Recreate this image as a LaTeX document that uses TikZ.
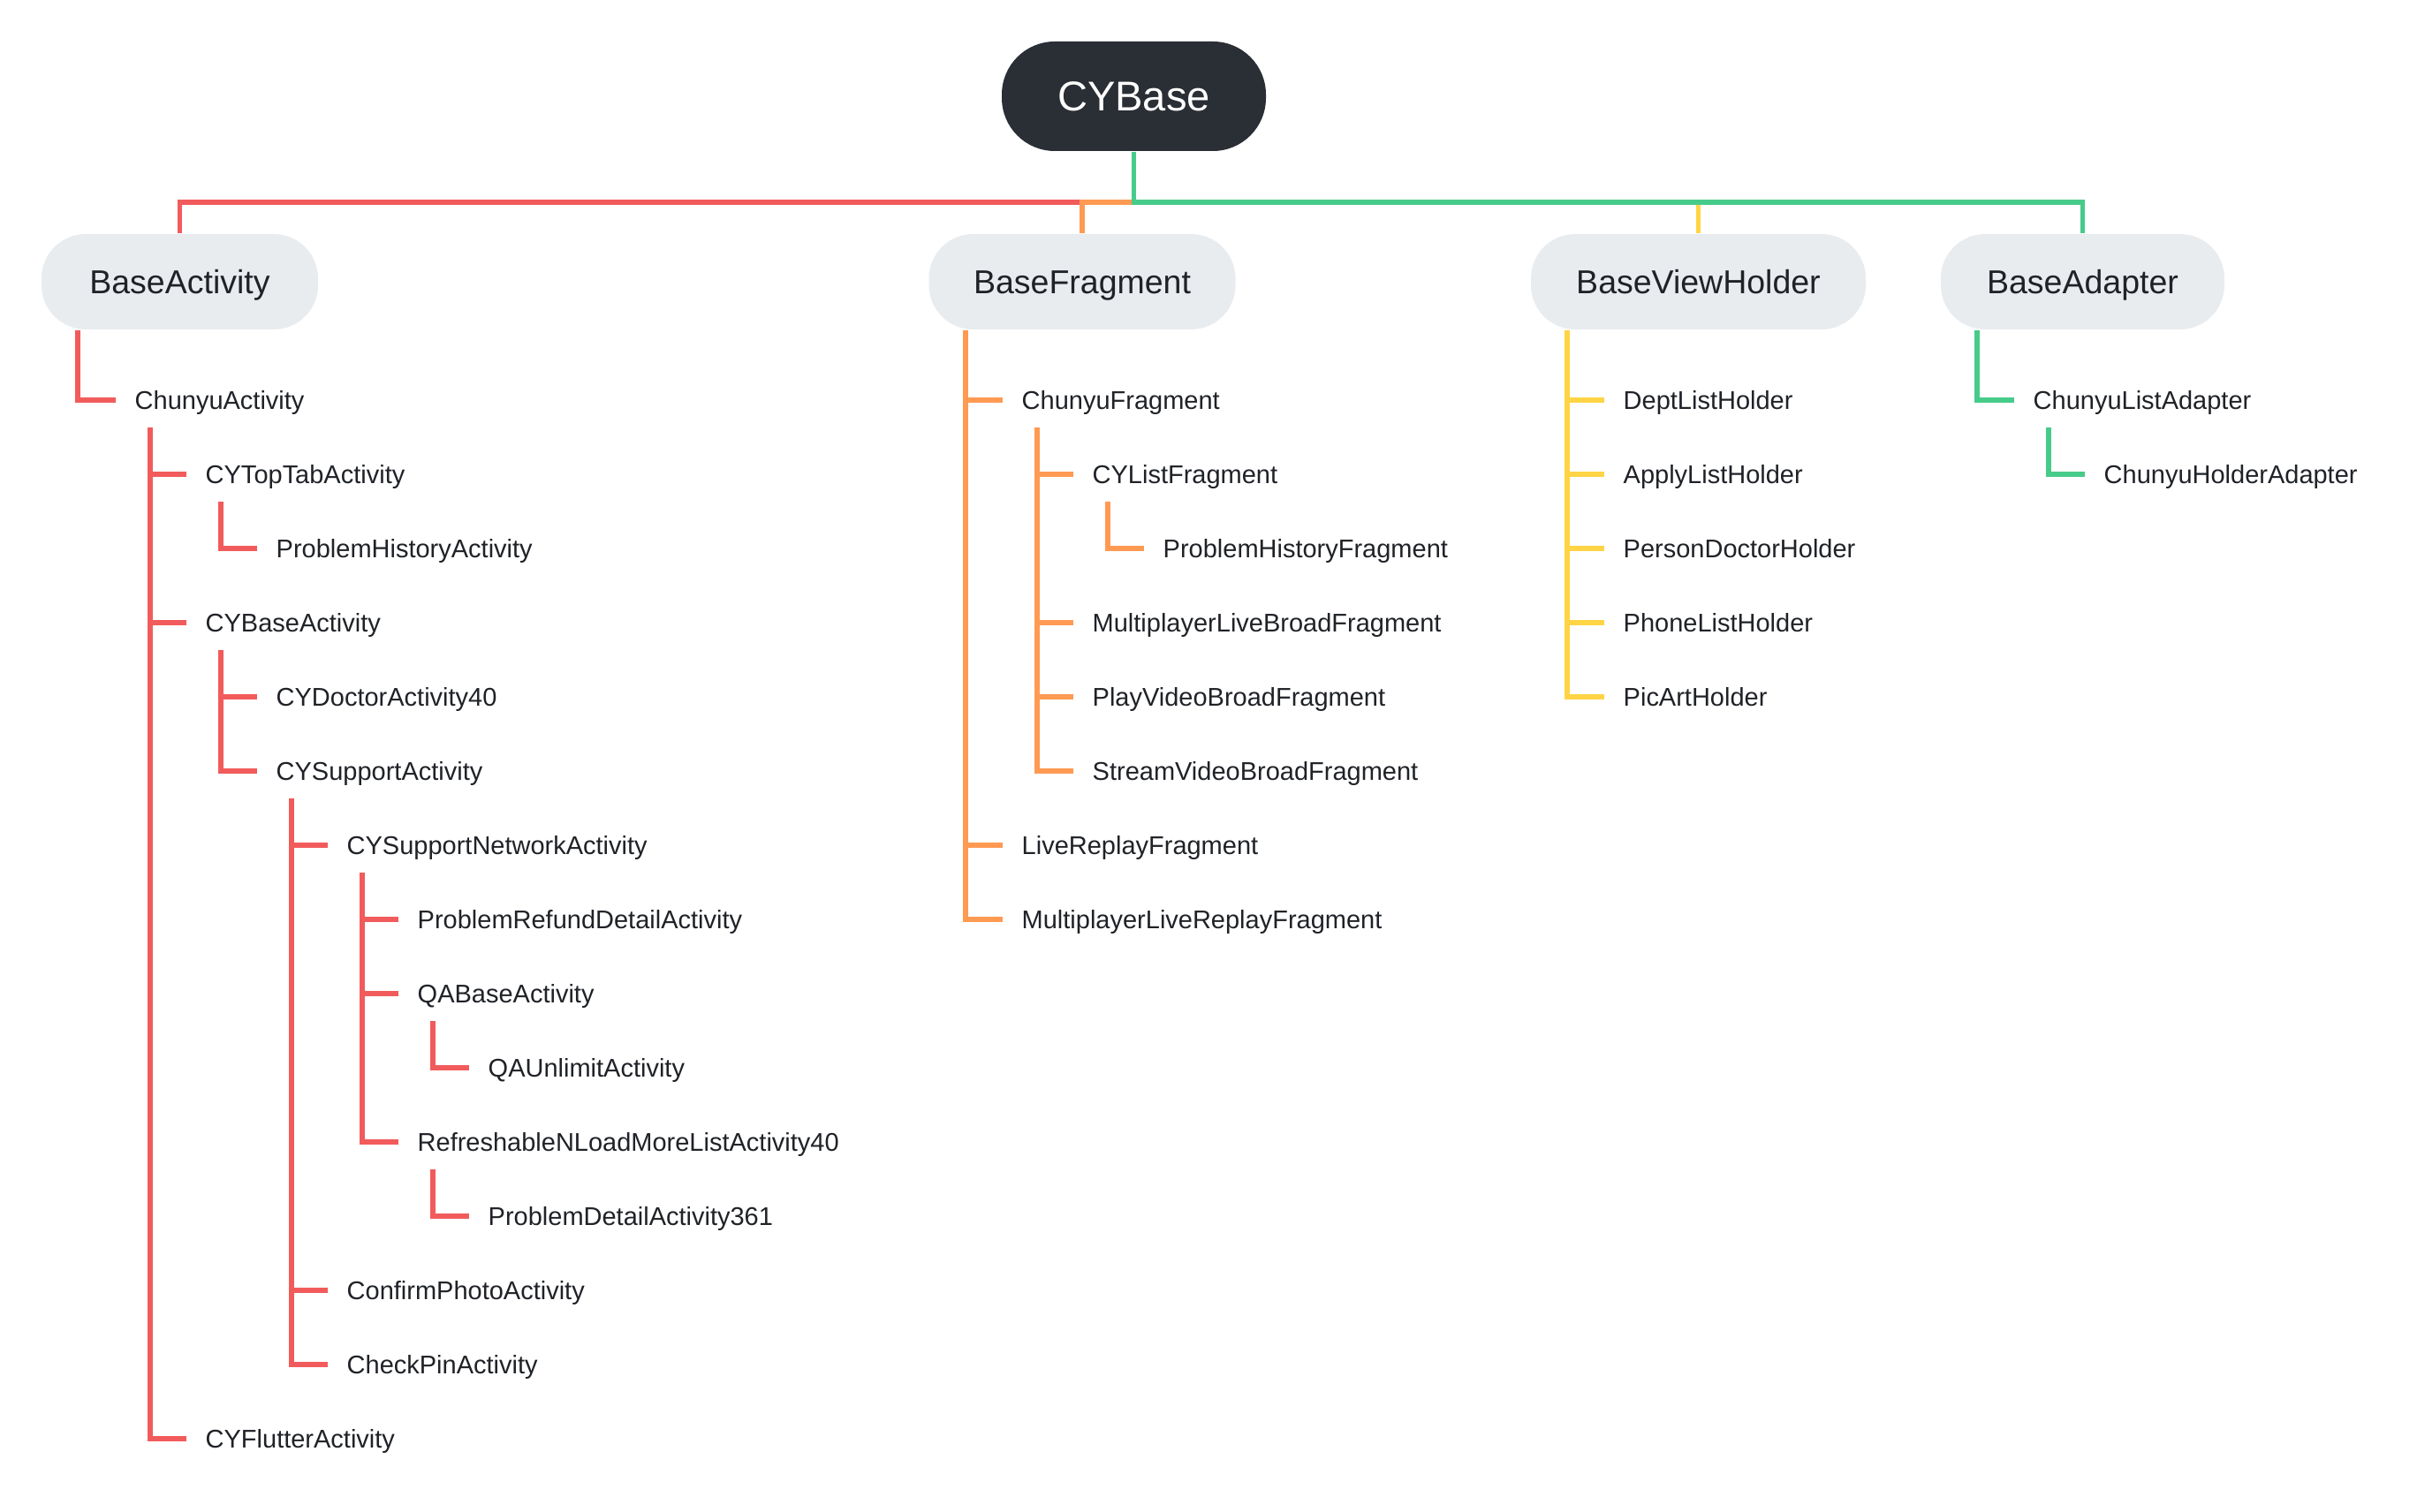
\documentclass[tikz,border=0pt]{standalone}
\usepackage{fontspec}
\setmainfont{Liberation Sans}
\usepackage{xcolor}
\usepackage{tikz}

\definecolor{cyred}{HTML}{F25B5B}
\definecolor{cyorange}{HTML}{FF9A52}
\definecolor{cyyellow}{HTML}{FFD445}
\definecolor{cygreen}{HTML}{47CB8A}
\definecolor{cydark}{HTML}{2A2E35}
\definecolor{cygray}{HTML}{E9ECEF}
\definecolor{cytext}{HTML}{1F2227}

\begin{document}
\begin{tikzpicture}[
    rootbox/.style={fill=cydark,text=white,rounded corners=0.6cm,minimum width=2.99cm,minimum height=1.24cm,inner sep=0pt,font=\fontsize{13.4}{16}\selectfont,text height=0.44cm,text depth=0.104cm},
    basebox/.style={fill=cygray,text=cytext,rounded corners=0.5cm,minimum height=1.08cm,inner sep=0pt,font=\fontsize{10.67}{13}\selectfont,text height=0.35cm,text depth=0.082cm},
    leaf/.style={anchor=west,inner xsep=0.21cm,inner ysep=0pt,text=cytext,font=\fontsize{8.25}{10}\selectfont,text height=0.28cm,text depth=0.072cm},
    link/.style={line width=0.058cm}
  ]
        \useasboundingbox (0,0) rectangle (27.36,-17.12);

        % Root and base classes
        \node[rootbox] (cybase) at (12.835,-1.09) {CYBase};
        \node[basebox,minimum width=3.13cm] (bact) at (2.035,-3.19) {BaseActivity};
        \node[basebox,minimum width=3.47cm] (bfrag) at (12.25,-3.19) {BaseFragment};
        \node[basebox,minimum width=3.79cm] (bvh) at (19.225,-3.19) {BaseViewHolder};
        \node[basebox,minimum width=3.21cm] (badp) at (23.575,-3.19) {BaseAdapter};

        % Activities
        \node[leaf] (chact) at (1.31,-4.53) {ChunyuActivity};
        \node[leaf] (toptab) at (2.11,-5.37) {CYTopTabActivity};
        \node[leaf] (phact) at (2.91,-6.21) {ProblemHistoryActivity};
        \node[leaf] (cybact) at (2.11,-7.05) {CYBaseActivity};
        \node[leaf] (doct) at (2.91,-7.89) {CYDoctorActivity40};
        \node[leaf] (supp) at (2.91,-8.73) {CYSupportActivity};
        \node[leaf] (suppnet) at (3.71,-9.57) {CYSupportNetworkActivity};
        \node[leaf] (refund) at (4.51,-10.41) {ProblemRefundDetailActivity};
        \node[leaf] (qabase) at (4.51,-11.25) {QABaseActivity};
        \node[leaf] (qaunl) at (5.31,-12.09) {QAUnlimitActivity};
        \node[leaf] (refresh) at (4.51,-12.93) {RefreshableNLoadMoreListActivity40};
        \node[leaf] (pdetail) at (5.31,-13.77) {ProblemDetailActivity361};
        \node[leaf] (confirm) at (3.71,-14.61) {ConfirmPhotoActivity};
        \node[leaf] (checkpin) at (3.71,-15.45) {CheckPinActivity};
        \node[leaf] (flutter) at (2.11,-16.29) {CYFlutterActivity};

        % Fragments
        \node[leaf] (chfrag) at (11.35,-4.53) {ChunyuFragment};
        \node[leaf] (listfrag) at (12.15,-5.37) {CYListFragment};
        \node[leaf] (phfrag) at (12.95,-6.21) {ProblemHistoryFragment};
        \node[leaf] (mlbfrag) at (12.15,-7.05) {MultiplayerLiveBroadFragment};
        \node[leaf] (pvbfrag) at (12.15,-7.89) {PlayVideoBroadFragment};
        \node[leaf] (svbfrag) at (12.15,-8.73) {StreamVideoBroadFragment};
        \node[leaf] (lrfrag) at (11.35,-9.57) {LiveReplayFragment};
        \node[leaf] (mlrfrag) at (11.35,-10.41) {MultiplayerLiveReplayFragment};

        % View holders
        \node[leaf] (dept) at (18.16,-4.53) {DeptListHolder};
        \node[leaf] (apply) at (18.16,-5.37) {ApplyListHolder};
        \node[leaf] (person) at (18.16,-6.21) {PersonDoctorHolder};
        \node[leaf] (phone) at (18.16,-7.05) {PhoneListHolder};
        \node[leaf] (picart) at (18.16,-7.89) {PicArtHolder};

        % Adapters
        \node[leaf] (chlist) at (22.80,-4.53) {ChunyuListAdapter};
        \node[leaf] (chholder) at (23.60,-5.37) {ChunyuHolderAdapter};

        % Top bus
        \coordinate (bus) at (12.835,-2.29);
        \draw[link,cyred] (cybase.south |- bus) -| (bact.north);
        \draw[link,cyorange] (cybase.south |- bus) -| (bfrag.north);
        \draw[link,cyyellow] (bvh.north |- bus) -- (bvh.north);
        \draw[link,cygreen] (cybase.south) -- (bus) -| (badp.north);

        % Activity links
        \draw[link,cyred] ([xshift=0.42cm]bact.south west) |- (chact.west);
        \draw[link,cyred] ([xshift=0.39cm,yshift=-0.31cm]chact.west) |- (toptab.west);
        \draw[link,cyred] ([xshift=0.39cm,yshift=-0.31cm]chact.west) |- (cybact.west);
        \draw[link,cyred] ([xshift=0.39cm,yshift=-0.31cm]chact.west) |- (flutter.west);
        \draw[link,cyred] ([xshift=0.39cm,yshift=-0.31cm]toptab.west) |- (phact.west);
        \draw[link,cyred] ([xshift=0.39cm,yshift=-0.31cm]cybact.west) |- (doct.west);
        \draw[link,cyred] ([xshift=0.39cm,yshift=-0.31cm]cybact.west) |- (supp.west);
        \draw[link,cyred] ([xshift=0.39cm,yshift=-0.31cm]supp.west) |- (suppnet.west);
        \draw[link,cyred] ([xshift=0.39cm,yshift=-0.31cm]supp.west) |- (confirm.west);
        \draw[link,cyred] ([xshift=0.39cm,yshift=-0.31cm]supp.west) |- (checkpin.west);
        \draw[link,cyred] ([xshift=0.39cm,yshift=-0.31cm]suppnet.west) |- (refund.west);
        \draw[link,cyred] ([xshift=0.39cm,yshift=-0.31cm]suppnet.west) |- (qabase.west);
        \draw[link,cyred] ([xshift=0.39cm,yshift=-0.31cm]suppnet.west) |- (refresh.west);
        \draw[link,cyred] ([xshift=0.39cm,yshift=-0.31cm]qabase.west) |- (qaunl.west);
        \draw[link,cyred] ([xshift=0.39cm,yshift=-0.31cm]refresh.west) |- (pdetail.west);

        % Fragment links
        \draw[link,cyorange] ([xshift=0.42cm]bfrag.south west) |- (chfrag.west);
        \draw[link,cyorange] ([xshift=0.42cm]bfrag.south west) |- (lrfrag.west);
        \draw[link,cyorange] ([xshift=0.42cm]bfrag.south west) |- (mlrfrag.west);
        \draw[link,cyorange] ([xshift=0.39cm,yshift=-0.31cm]chfrag.west) |- (listfrag.west);
        \draw[link,cyorange] ([xshift=0.39cm,yshift=-0.31cm]chfrag.west) |- (mlbfrag.west);
        \draw[link,cyorange] ([xshift=0.39cm,yshift=-0.31cm]chfrag.west) |- (pvbfrag.west);
        \draw[link,cyorange] ([xshift=0.39cm,yshift=-0.31cm]chfrag.west) |- (svbfrag.west);
        \draw[link,cyorange] ([xshift=0.39cm,yshift=-0.31cm]listfrag.west) |- (phfrag.west);

        % Holder links
        \draw[link,cyyellow] ([xshift=0.42cm]bvh.south west) |- (dept.west);
        \draw[link,cyyellow] ([xshift=0.42cm]bvh.south west) |- (apply.west);
        \draw[link,cyyellow] ([xshift=0.42cm]bvh.south west) |- (person.west);
        \draw[link,cyyellow] ([xshift=0.42cm]bvh.south west) |- (phone.west);
        \draw[link,cyyellow] ([xshift=0.42cm]bvh.south west) |- (picart.west);

        % Adapter links
        \draw[link,cygreen] ([xshift=0.42cm]badp.south west) |- (chlist.west);
        \draw[link,cygreen] ([xshift=0.39cm,yshift=-0.31cm]chlist.west) |- (chholder.west);
    \end{tikzpicture}
\end{document}
